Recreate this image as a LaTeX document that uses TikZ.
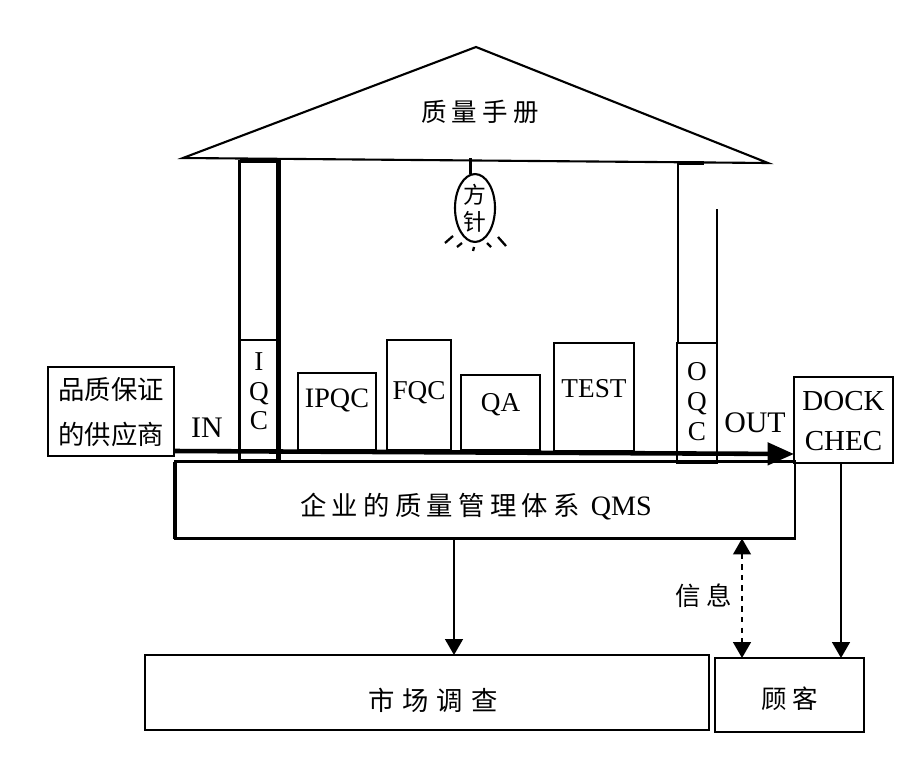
\documentclass[tikz,border=0pt]{standalone}
\usepackage{fontspec}
\setmainfont{Liberation Serif}
\newfontfamily\cjk{Noto Sans CJK SC}
\newfontfamily\cjkwide[LetterSpace=20]{Noto Sans CJK SC}
\newfontfamily\cjkwider[LetterSpace=30]{Noto Sans CJK SC}
\usepackage{tikz}
\usetikzlibrary{shapes.geometric,positioning,arrows.meta}

\tikzset{
  stage/.style={draw, line width=1.4pt, minimum width=#1, inner sep=0pt, outer sep=0pt, align=center, font=\fontsize{15.5}{17}\selectfont},
  widecjk/.style={font=\fontsize{14.5}{18}\selectfont\cjkwide},
  flow/.style={line width=1.3pt, -{Triangle[length=9pt,width=10pt]}},
  heavy/.style={line width=2.6pt},
  ray/.style={line width=1.3pt},
}

\begin{document}
\begin{tikzpicture}[x=0.02cm, y=-0.02cm]
  \useasboundingbox (0,0) rectangle (918,760);

  % roof and lamp
  \coordinate (roofL) at (183,158);
  \coordinate (roofT) at (476,47);
  \coordinate (roofR) at (768,163);
  \draw[line width=1.2pt] (roofL) -- (roofT) -- (roofR) -- cycle;
  \node[widecjk] (manual) at (480,112) {质量手册};
  \node[draw, ellipse, line width=1.2pt, minimum width=0.8cm, minimum height=1.16cm, inner sep=0pt, align=center, font=\fontsize{13}{15.3}\selectfont\cjk] (lamp) at (475,208) {方\\针};
  \draw[line width=1.6pt] (lamp.97) -- (lamp.97 |- roofL);
  \draw[ray] (445,243) -- (453,236);
  \draw[ray] (457,247) -- (462,243);
  \draw[ray] (473,251) -- (474,247);
  \draw[ray] (487,243) -- (491,247);
  \draw[ray] (498,237) -- (506,246);

  % pillars
  \node[stage=0.78cm, minimum height=3.58cm] (pillarL) at (259,250.5) {};
  \node[stage=0.78cm, anchor=north, text height=1.8cm, text depth=0.62cm] (iqc) at (259,340) {I\\Q\\C};
  \draw[heavy] (pillarL.north west) -- (pillarL.north east) -- (iqc.south east) -- (iqc.south west);
  \draw[line width=1.2pt] (678,161) -- (678,343);
  \draw[line width=1.6pt] (717,209) -- (717,343);
  \draw[heavy] (678,163) -- (704,163);
  \node[stage=0.8cm, anchor=north, text height=1.95cm, text depth=0.45cm] (oqc) at (697,343) {O\\Q\\C};

  % stages on the line
  \node[stage=1.56cm, anchor=north, text height=0.7cm, text depth=0.84cm, font=\fontsize{16}{18}\selectfont] (ipqc) at (337,373) {IPQC};
  \node[stage=1.28cm, anchor=north, text height=1.2cm, text depth=1cm] (fqc) at (419,340) {FQC};
  \node[stage=1.58cm, anchor=north, text height=0.74cm, text depth=0.76cm] (qa) at (500.5,375) {QA};
  \node[stage=1.6cm, anchor=north, text height=1.1cm, text depth=1.06cm] (test) at (594,343) {TEST};

  % supplier, system, check
  \node[stage=2.52cm, text height=1.56cm, text depth=0.22cm, font=\fontsize{15}{26}\selectfont\cjk] (supplier) at (111,411.5) {品质保证\\的供应商};
  \node[stage=12.4cm, text height=1.08cm, text depth=0.46cm, font=\fontsize{15}{18}\selectfont\cjkwide] (qms) at (485,500) {企业的质量管理体系 {\fontsize{16}{18}\selectfont\rmfamily QMS}\hspace{0.36cm}};
  \draw[heavy] (qms.north west) -- (qms.south west);
  \node[stage=1.98cm, text height=1.46cm, text depth=0.26cm, font=\fontsize{16.5}{22.7}\selectfont] (dock) at (843.5,420) {DOCK\\CHEC};
  \node[stage=11.28cm, text height=1.1cm, text depth=0.4cm, font=\fontsize{15}{18}\selectfont\cjkwider] (market) at (427,692.5) {\hspace{0.24cm}市场调查};
  \node[stage=2.98cm, text height=1cm, text depth=0.48cm, widecjk] (client) at (789.5,695) {顾客};

  % flow lines
  \coordinate (lineA) at (supplier.east |- 0,451);
  \coordinate (lineB) at (dock.west |- 0,454);
  \draw[line width=2.6pt, -{Triangle[length=15pt,width=12.5pt]}] (lineA) -- (lineB);
  \node[font=\fontsize{17}{18}\selectfont] (inlabel) at (207,428) {IN};
  \node[font=\fontsize{17}{18}\selectfont] (outlabel) at (755,423) {OUT};

  % connectors to the bottom row
  \draw[flow] (qms.south -| 454,0) -- (market.north -| 454,0);
  \draw[flow] (dock.south -| 841,0) -- (client.north -| 841,0);
  \draw[line width=1.3pt, dashed, {Triangle[length=9pt,width=10pt]}-{Triangle[length=9pt,width=10pt]}] (qms.south -| 742,0) -- (client.north -| 742,0);
  \node[widecjk] (info) at (704,596) {信息};
\end{tikzpicture}
\end{document}
